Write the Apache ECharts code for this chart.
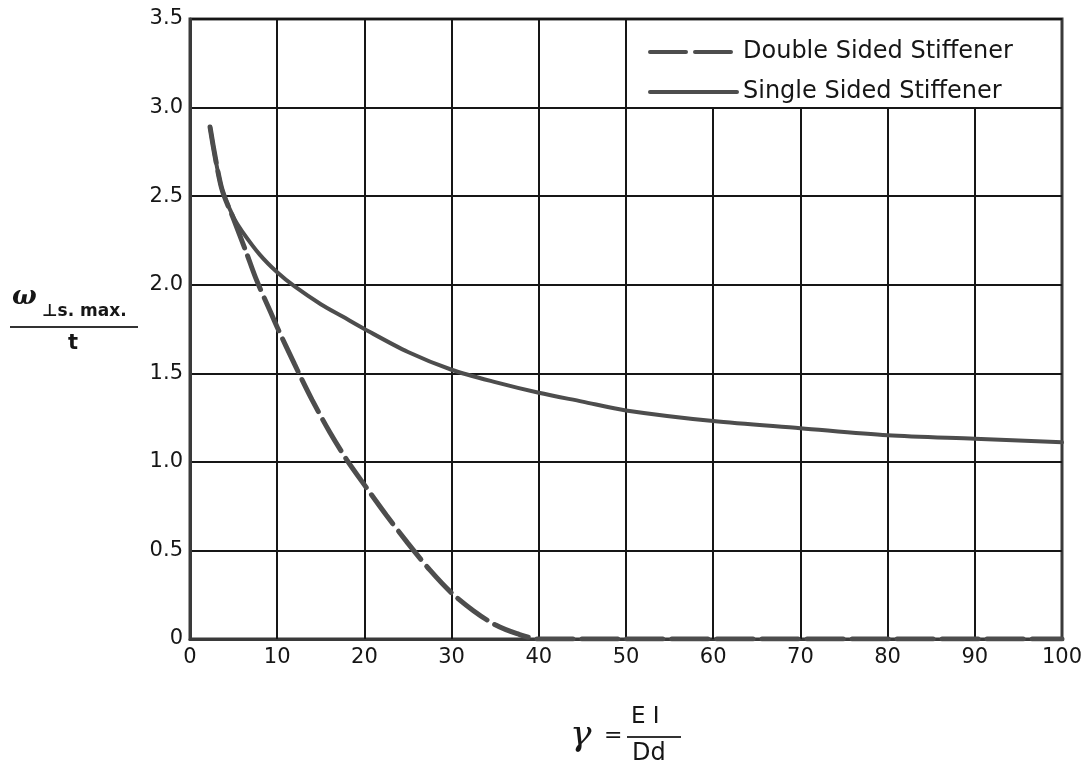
<!DOCTYPE html>
<html>
<head>
<meta charset="utf-8">
<script src="https://cdn.jsdelivr.net/npm/echarts@6/dist/echarts.min.js"></script>
<style>
html,body{margin:0;padding:0;background:#fff;}
#chart{width:1087px;height:771px;}
</style>
</head>
<body>
<div id="chart"></div>
<script>
// ---- data ----
const xTicks = [0, 10, 20, 30, 40, 50, 60, 70, 80, 90, 100];
const yTicks = [0, 0.5, 1.0, 1.5, 2.0, 2.5, 3.0, 3.5];

const singleX = [2.3, 3.6, 5, 6, 8, 10, 12, 15, 17.5, 20, 25, 30, 35, 40, 45, 50, 60, 70, 80, 90, 100];
const singleY = [2.89, 2.55, 2.38, 2.3, 2.17, 2.07, 1.99, 1.89, 1.82, 1.75, 1.62, 1.52, 1.45, 1.39, 1.34, 1.29, 1.23, 1.19, 1.15, 1.13, 1.11];

const doubleX = [2.3, 3.6, 5, 6.4, 7.6, 9.2, 10, 12, 14, 16, 18, 20, 22.5, 25, 27.5, 30, 32.5, 35, 37.5, 40, 100];
const doubleY = [2.89, 2.55, 2.37, 2.19, 2.03, 1.85, 1.76, 1.55, 1.35, 1.17, 1.01, 0.87, 0.7, 0.54, 0.39, 0.26, 0.16, 0.08, 0.03, 0, 0];

const seriesNames = ['Double Sided Stiffener', 'Single Sided Stiffener'];

// legend box occupies the region x>=50, y>=3.0 (vertical grid lines stop at 3.0 there)
const legendBoxX = 50;
const legendBoxY = 3.0;

const FONT = 'DejaVu Sans';
const INK = '#161616';
const CURVE = '#4d4d4d';
const DASH = [36, 9];

const zip = (xs, ys) => xs.map((x, i) => [x, ys[i]]);

const gridLines = xTicks.filter(x => x > 0 && x < 100).map(x => [
  { coord: [x, 0] },
  { coord: [x, x > legendBoxX ? legendBoxY : 3.5] }
]);

const chart = echarts.init(document.getElementById('chart'), null, { renderer: 'canvas' });

chart.setOption({
  backgroundColor: '#ffffff',
  animation: false,
  grid: {
    left: 190, right: 25, top: 19, bottom: 132,
    show: true, borderColor: '#3a3a3a', borderWidth: 3, backgroundColor: 'transparent'
  },
  xAxis: {
    type: 'value', min: 0, max: 100, interval: 10,
    axisLine: { show: true, lineStyle: { color: '#3a3a3a', width: 3 } },
    axisTick: { show: false },
    splitLine: { show: false },
    axisLabel: { color: INK, fontFamily: FONT, fontSize: 21, margin: 8 }
  },
  yAxis: {
    type: 'value', min: 0, max: 3.5, interval: 0.5,
    axisLine: { show: true, lineStyle: { color: '#3a3a3a', width: 3 } },
    axisTick: { show: false },
    splitLine: { show: true, lineStyle: { color: INK, width: 2 } },
    axisLabel: {
      color: INK, fontFamily: FONT, fontSize: 21, margin: 7,
      formatter: v => (v === 0 ? '0' : v.toFixed(1))
    }
  },
  legend: {
    data: [
      { name: seriesNames[0], itemStyle: { opacity: 0 }, lineStyle: { color: CURVE, width: 4, type: DASH } },
      { name: seriesNames[1], itemStyle: { opacity: 0 }, lineStyle: { color: CURVE, width: 4, type: 'solid' } }
    ],
    orient: 'vertical',
    left: 643, top: 35,
    itemWidth: 87, itemHeight: 24, itemGap: 16,
    itemStyle: { opacity: 0 },
    textStyle: { color: INK, fontFamily: FONT, fontSize: 24, padding: [0, 0, 0, 1] },
    selectedMode: false
  },
  series: [
    {
      name: '_grid',
      type: 'line',
      data: [],
      silent: true,
      z: 1,
      markLine: {
        silent: true,
        symbol: 'none',
        label: { show: false },
        lineStyle: { color: INK, width: 2, type: 'solid' },
        data: gridLines
      }
    },
    {
      name: seriesNames[0],
      type: 'line',
      data: zip(doubleX, doubleY),
      smooth: 0.3,
      symbol: 'none',
      z: 5,
      lineStyle: { color: CURVE, width: 5, type: DASH, cap: 'round' },
      itemStyle: { color: CURVE }
    },
    {
      name: seriesNames[1],
      type: 'line',
      data: zip(singleX, singleY),
      smooth: 0.3,
      symbol: 'none',
      z: 5,
      lineStyle: { color: CURVE, width: 4, type: 'solid', cap: 'round' },
      itemStyle: { color: CURVE }
    }
  ],
  graphic: [
    // y-axis name: omega_(ls. max.) / t
    { type: 'text', left: 12, top: 284, style: { text: 'ω', font: 'bold italic 26px "DejaVu Serif"', fill: INK } },
    { type: 'text', left: 42, top: 303, style: { text: '⊥s. max.', font: 'bold 17px "DejaVu Sans"', fill: INK } },
    { type: 'line', shape: { x1: 10, y1: 327, x2: 138, y2: 327 }, style: { stroke: '#333', lineWidth: 2 } },
    { type: 'text', left: 68, top: 333, style: { text: 't', font: 'bold 21px "DejaVu Sans"', fill: INK } },
    // x-axis name: gamma = EI / Dd
    { type: 'text', left: 570, top: 718, style: { text: 'γ', font: 'italic 36px "DejaVu Serif"', fill: INK } },
    { type: 'text', left: 604, top: 725, style: { text: '=', font: '22px "DejaVu Sans"', fill: INK } },
    { type: 'text', left: 631, top: 706, style: { text: 'E I', font: '23px "DejaVu Sans"', fill: INK } },
    { type: 'line', shape: { x1: 627, y1: 737, x2: 681, y2: 737 }, style: { stroke: '#333', lineWidth: 2 } },
    { type: 'text', left: 632, top: 742, style: { text: 'Dd', font: '24px "DejaVu Sans"', fill: INK } }
  ]
});
</script>
</body>
</html>
